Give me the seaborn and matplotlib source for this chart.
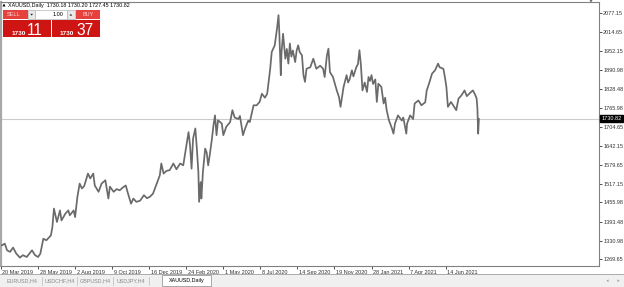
import numpy as np
import pandas as pd
import matplotlib
matplotlib.use("Agg")
import matplotlib.pyplot as plt
import matplotlib.transforms as mtransforms
from matplotlib.patches import Rectangle, Polygon
import seaborn as sns

# ---------------- data ----------------
symbol = "XAUUSD,Daily"
header_prices = ["1730.18", "1730.20", "1727.45", "1730.82"]
last_price = 1730.82

# bar index (trading day since 20 Mar 2019) and price
bars = [
    1, 5, 8, 12, 16, 20, 25, 29, 34, 41, 45, 49, 52, 56, 60, 66, 68, 70, 74, 78,
    80, 85, 89, 91, 96, 98, 101, 104, 107, 110, 115, 118, 122, 124, 129, 133, 138, 142, 144, 149,
    153, 157, 161, 165, 168, 172, 175, 179, 184, 189, 193, 197, 201, 206, 210, 212, 215, 219, 223, 228,
    232, 237, 241, 246, 248, 250, 252, 254, 257, 259, 261, 262, 264, 265, 267, 270, 272, 274, 276, 279,
    281, 283, 285, 287, 292, 294, 298, 303, 306, 309, 314, 316, 320, 323, 327, 329, 334, 338, 342, 345,
    349, 352, 356, 358, 362, 365, 367, 368, 370, 371, 373, 376, 378, 380, 382, 384, 386, 389, 391, 393,
    395, 398, 400, 402, 404, 409, 413, 417, 422, 426, 428, 431, 433, 435, 439, 444, 447, 449, 453, 457,
    459, 461, 464, 466, 470, 472, 474, 476, 478, 481, 484, 486, 488, 490, 492, 495, 497, 499, 503, 506,
    508, 510, 513, 517, 519, 521, 525, 530, 532, 536, 537, 541, 545, 547, 552, 556, 561, 563, 566, 570,
    574, 578, 580, 585, 587, 589, 591, 595, 598, 602, 605, 609, 613, 616, 620, 624, 627, 629, 630, 631,
    632,
]
prices = [
    1315, 1321, 1299, 1294, 1308, 1289, 1275, 1283, 1277, 1299, 1283, 1277, 1288, 1337, 1332, 1348, 1376, 1436, 1392, 1430,
    1397, 1419, 1430, 1414, 1430, 1408, 1474, 1518, 1502, 1510, 1551, 1535, 1551, 1512, 1491, 1518, 1529, 1469, 1508, 1491,
    1500, 1496, 1505, 1512, 1485, 1452, 1469, 1458, 1462, 1480, 1470, 1475, 1485, 1518, 1545, 1584, 1551, 1560, 1562, 1584,
    1565, 1584, 1578, 1655, 1687, 1644, 1567, 1666, 1699, 1633, 1556, 1458, 1523, 1469, 1556, 1633, 1620, 1578, 1611, 1666,
    1710, 1742, 1677, 1726, 1715, 1677, 1705, 1720, 1759, 1735, 1730, 1740, 1677, 1700, 1725, 1720, 1775, 1775, 1786, 1813,
    1800, 1813, 1895, 1950, 1972, 2027, 2071, 2016, 1874, 1950, 2010, 1928, 1960, 1912, 1978, 1935, 1955, 1917, 1955, 1972,
    1950, 1939, 1874, 1852, 1895, 1900, 1928, 1895, 1905, 1895, 1868, 1939, 1961, 1884, 1868, 1824, 1802, 1770, 1835, 1874,
    1850, 1860, 1890, 1870, 1901, 1910, 1956, 1906, 1824, 1850, 1819, 1868, 1855, 1874, 1845, 1860, 1786, 1846, 1835, 1781,
    1800, 1759, 1726, 1699, 1682, 1715, 1742, 1725, 1735, 1682, 1715, 1742, 1730, 1781, 1791, 1775, 1785, 1824, 1846, 1879,
    1890, 1912, 1900, 1895, 1868, 1835, 1770, 1786, 1775, 1759, 1797, 1808, 1824, 1805, 1815, 1824, 1810, 1797, 1765, 1682,
    1731,
]
assert len(bars) == len(prices)

date_tick_bars = [0, 49, 98, 147, 196, 245, 294, 343, 392, 441, 490, 539, 588]
date_tick_labels = ["20 Mar 2019", "28 May 2019", "2 Aug 2019", "9 Oct 2019", "16 Dec 2019",
                    "24 Feb 2020", "1 May 2020", "8 Jul 2020", "14 Sep 2020", "19 Nov 2020",
                    "28 Jan 2021", "7 Apr 2021", "14 Jun 2021"]
price_tick_labels = ["2077.15", "2014.65", "1952.15", "1890.98", "1828.48", "1765.98", "1704.65",
                     "1642.15", "1579.65", "1517.15", "1455.98", "1393.48", "1330.98", "1269.65"]
tabs = ["EURUSD,H4", "USDCHF,H4", "GBPUSD,H4", "USDJPY,H4", "XAUUSD,Daily"]
lot_size = "1.00"
sell_big, sell_small = "11", "1730"
buy_big, buy_small = "37", "1730"

# ---------------- style ----------------
sns.set_theme(style="white")
plt.rcParams['font.family'] = ['Liberation Sans', 'DejaVu Sans']

W, H = 624, 287
fig = plt.figure(figsize=(W / 100, H / 100), dpi=100)
fig.patch.set_facecolor("white")

ax = fig.add_axes([1 / W, 21 / H, 598 / W, 264 / H])
df = pd.DataFrame({"bar": bars, "price": prices})
sns.lineplot(data=df, x="bar", y="price", ax=ax, color="#6a6a6a", lw=1.25,
             estimator=None, sort=False, zorder=3)
ax.set_xlim(0, 790.8)
ax.set_ylim(1247.5, 2114.2)
ax.axhline(last_price, color="#cccccc", lw=0.8, zorder=1)
ax.set_xlabel("")
ax.set_ylabel("")

ax.yaxis.tick_right()
ax.set_yticks([float(v) for v in price_tick_labels])
ax.set_yticklabels(price_tick_labels)
ax.tick_params(axis="y", which="both", direction="out", length=2, width=0.6, pad=1,
               labelsize=4, colors="#333333", right=True, left=False)
ax.set_xticks(date_tick_bars)
ax.set_xticklabels(date_tick_labels)
ax.tick_params(axis="x", direction="out", length=2.5, width=0.6, pad=0.6,
               labelsize=4, colors="#333333", bottom=True)
shift = mtransforms.ScaledTranslation(1.5 / 100, 0, fig.dpi_scale_trans)
for lab in ax.get_xticklabels():
    lab.set_ha("left")
    lab.set_transform(lab.get_transform() + shift)

for side in ["top", "right", "bottom"]:
    ax.spines[side].set_color("#808080")
    ax.spines[side].set_linewidth(0.8)
ax.spines["left"].set_color("#a8a8a8")
ax.spines["left"].set_linewidth(1.6)

# current price tag on the price scale
blend = mtransforms.blended_transform_factory(ax.transAxes, ax.transData)
ax.text(1.004, last_price, f"{last_price:.2f}", transform=blend, ha="left", va="center",
        fontsize=4, color="white", zorder=5, clip_on=False,
        bbox=dict(boxstyle="square,pad=0.2", fc="black", ec="black"))

# ---------------- terminal decorations (overlay in pixel coords) ----------------
ov = fig.add_axes([0, 0, 1, 1], zorder=10)
ov.set_xlim(0, W)
ov.set_ylim(H, 0)
ov.axis("off")
ov.patch.set_alpha(0)

# header
ov.add_patch(Polygon([[2.5, 6.5], [5.5, 6.5], [4, 3.5]], closed=True, fc="black", ec="none"))
ov.text(8, 5.3, symbol + "  " + " ".join(header_prices), fontsize=3.9, color="black",
        ha="left", va="center")
ov.add_patch(Polygon([[589.5, 0], [592.5, 0], [591, 3]], closed=True, fc="#707070", ec="none"))

# one-click trading panel
top_red = "#e5413d"
low_red = "#cf1414"
ov.add_patch(Rectangle((3.3, 10), 25, 9.3, fc=top_red, ec="none"))
ov.text(13.5, 14.8, "SELL", fontsize=4, color="#ffd8d8", ha="center", va="center")
ov.add_patch(Rectangle((28.3, 10), 6.7, 9.3, fc="#e9e9e9", ec="#b5b5b5", lw=0.5))
ov.add_patch(Polygon([[30.3, 13.8], [33.0, 13.8], [31.65, 15.6]], closed=True, fc="#222222", ec="none"))
ov.add_patch(Rectangle((35, 10), 31.7, 9.3, fc="white", ec="#b5b5b5", lw=0.5))
ov.text(63.3, 14.8, lot_size, fontsize=4, color="black", ha="right", va="center")
ov.add_patch(Rectangle((66.7, 10), 8.3, 9.3, fc="#e9e9e9", ec="#b5b5b5", lw=0.5))
ov.add_patch(Polygon([[69.5, 15.6], [72.2, 15.6], [70.85, 13.8]], closed=True, fc="#222222", ec="none"))
ov.add_patch(Rectangle((75.5, 10), 24.5, 9.3, fc=top_red, ec="none"))
ov.text(88, 14.8, "BUY", fontsize=4, color="#ffd8d8", ha="center", va="center")

ov.add_patch(Rectangle((3.3, 19.5), 47.4, 17.8, fc=low_red, ec="none"))
ov.add_patch(Rectangle((51.6, 19.5), 48.4, 17.8, fc=low_red, ec="none"))
narrow = ["Liberation Sans Narrow", "Liberation Sans", "DejaVu Sans"]
ov.text(11.7, 34.8, sell_small, fontsize=4.6, fontweight="bold", color="white", ha="left", va="baseline")
ov.text(27.0, 35.4, sell_big, fontsize=11.2, color="white", ha="left", va="baseline", family=narrow)
ov.text(60.0, 34.8, buy_small, fontsize=4.6, fontweight="bold", color="white", ha="left", va="baseline")
ov.text(76.5, 35.4, buy_big, fontsize=11.2, color="white", ha="left", va="baseline", family=narrow)

# tab bar
ov.add_patch(Rectangle((0, 274), W, 13, fc="#f0f0f0", ec="none"))
ov.plot([0, W], [274, 274], color="#a0a0a0", lw=0.6)
tab_centers = [22, 60, 95, 130.5, 186.5]
for i, (name, cx) in enumerate(zip(tabs, tab_centers)):
    active = i == len(tabs) - 1
    if active:
        ov.add_patch(Rectangle((162, 274.5), 49, 11.5, fc="white", ec="#9a9a9a", lw=0.6))
    ov.text(cx, 280.6, name, fontsize=3.9, color="black" if active else "#8a8a8a",
            ha="center", va="center")
for sx in [42, 77, 113, 149]:
    ov.plot([sx, sx], [277, 284.5], color="#c4c4c4", lw=0.6)
ov.add_patch(Polygon([[606.5, 280.7], [608.5, 279.3], [608.5, 282.1]], closed=True, fc="#9a9a9a", ec="none"))
ov.add_patch(Polygon([[619.5, 280.7], [617.5, 279.3], [617.5, 282.1]], closed=True, fc="#9a9a9a", ec="none"))

fig.savefig("out.png", dpi=100, facecolor="white")
